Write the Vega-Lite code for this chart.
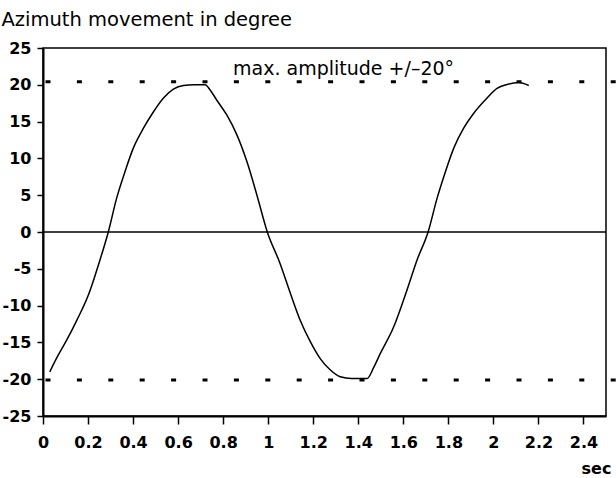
{
  "$schema": "https://vega.github.io/schema/vega-lite/v6.json",
  "width": 563,
  "height": 368,
  "autosize": {"type": "none"},
  "padding": {"left": 43, "top": 48, "right": 10, "bottom": 62},
  "background": "white",
  "config": {
    "view": {"stroke": "black", "strokeWidth": 1.5},
    "font": "DejaVu Sans",
    "axis": {"labelOverlap": false, "labelFlush": false, "grid": false, "labelBound": false}
  },
  "datasets": {
    "curve": [
      {"t": 0.03, "v": -19.0},
      {"t": 0.068, "v": -16.7},
      {"t": 0.105, "v": -14.7},
      {"t": 0.15, "v": -12.0},
      {"t": 0.201, "v": -8.6},
      {"t": 0.253, "v": -3.8},
      {"t": 0.29, "v": 0.0},
      {"t": 0.327, "v": 4.6},
      {"t": 0.364, "v": 8.2},
      {"t": 0.401, "v": 11.4},
      {"t": 0.446, "v": 14.1},
      {"t": 0.49, "v": 16.3},
      {"t": 0.535, "v": 18.2},
      {"t": 0.579, "v": 19.4},
      {"t": 0.624, "v": 19.9},
      {"t": 0.67, "v": 20.0},
      {"t": 0.72, "v": 20.0},
      {"t": 0.742, "v": 19.3},
      {"t": 0.772, "v": 17.9},
      {"t": 0.816, "v": 15.9},
      {"t": 0.861, "v": 13.2},
      {"t": 0.905, "v": 9.6},
      {"t": 0.95, "v": 5.0},
      {"t": 0.996, "v": 0.0},
      {"t": 1.053, "v": -4.3},
      {"t": 1.098, "v": -8.3},
      {"t": 1.142, "v": -12.0},
      {"t": 1.187, "v": -14.9},
      {"t": 1.231, "v": -17.2},
      {"t": 1.276, "v": -18.75},
      {"t": 1.32, "v": -19.66},
      {"t": 1.37, "v": -19.9},
      {"t": 1.439, "v": -19.9},
      {"t": 1.47, "v": -18.3},
      {"t": 1.498, "v": -16.5},
      {"t": 1.557, "v": -12.9},
      {"t": 1.616, "v": -7.9},
      {"t": 1.661, "v": -3.8},
      {"t": 1.71, "v": 0.0},
      {"t": 1.75, "v": 4.6},
      {"t": 1.787, "v": 8.2},
      {"t": 1.824, "v": 11.4},
      {"t": 1.868, "v": 14.1},
      {"t": 1.912, "v": 16.1},
      {"t": 1.972, "v": 18.2},
      {"t": 2.016, "v": 19.5},
      {"t": 2.061, "v": 20.05},
      {"t": 2.112, "v": 20.3},
      {"t": 2.157, "v": 19.9}
    ],
    "limits": [
      {"t": 0, "t2": 2.556, "v": 20.4},
      {"t": 0, "t2": 2.556, "v": -20.1}
    ],
    "zero": [
      {"t": 0, "t2": 2.5, "v": 0}
    ],
    "note": [
      {"t": 0.844, "v": 21.3, "label": "max. amplitude +/–20°"}
    ]
  },
  "layer": [
    {
      "data": {"name": "curve"},
      "mark": {"type": "line", "color": "black", "strokeWidth": 1.5, "interpolate": "monotone"},
      "encoding": {
        "x": {
          "field": "t",
          "type": "quantitative",
          "scale": {"domain": [0, 2.5], "nice": false, "zero": false},
          "axis": {
            "values": [0, 0.2, 0.4, 0.6, 0.8, 1, 1.2, 1.4, 1.6, 1.8, 2, 2.2, 2.4],
            "format": "~g",
            "labelOverlap": false,
            "domainColor": "black",
            "domainWidth": 2,
            "tickColor": "black",
            "tickWidth": 1.5,
            "tickSize": 8,
            "labelPadding": 10,
            "labelFont": "DejaVu Sans",
            "labelFontSize": 16,
            "labelFontWeight": "bold",
            "labelColor": "black",
            "title": "sec",
            "titleFont": "DejaVu Sans",
            "titleFontSize": 16,
            "titleFontWeight": "bold",
            "titleColor": "black",
            "titleAlign": "left",
            "titleBaseline": "alphabetic",
            "titleAnchor": null,
            "titleX": 538,
            "titleY": 57
          }
        },
        "y": {
          "field": "v",
          "type": "quantitative",
          "scale": {"domain": [-25, 25], "nice": false, "zero": false},
          "axis": {
            "tickCount": 10,
            "labelExpr": "datum.value < 0 ? '-' + format(-datum.value, 'd') : format(datum.value, 'd')",
            "labelOverlap": false,
            "labelSeparation": 0,
            "domainColor": "black",
            "domainWidth": 2,
            "tickColor": "black",
            "tickWidth": 1.5,
            "tickSize": 6,
            "labelPadding": 6,
            "labelFont": "DejaVu Sans",
            "labelFontSize": 16,
            "labelFontWeight": "bold",
            "labelColor": "black",
            "title": "Azimuth movement in degree",
            "titleFont": "DejaVu Sans",
            "titleFontSize": 19.5,
            "titleFontWeight": "normal",
            "titleColor": "black",
            "titleAngle": 0,
            "titleAlign": "left",
            "titleBaseline": "alphabetic",
            "titleAnchor": null,
            "titleX": -42,
            "titleY": -23
          }
        }
      }
    },
    {
      "data": {"name": "zero"},
      "mark": {"type": "rule", "color": "black", "strokeWidth": 1.5},
      "encoding": {
        "x": {"field": "t", "type": "quantitative"},
        "x2": {"field": "t2"},
        "y": {"field": "v", "type": "quantitative"}
      }
    },
    {
      "data": {"name": "limits"},
      "mark": {"type": "rule", "color": "black", "strokeWidth": 3, "strokeDash": [5, 26.4], "strokeDashOffset": 28.9, "clip": false},
      "encoding": {
        "x": {"field": "t", "type": "quantitative"},
        "x2": {"field": "t2"},
        "y": {"field": "v", "type": "quantitative"}
      }
    },
    {
      "data": {"name": "note"},
      "mark": {"type": "text", "align": "left", "baseline": "alphabetic", "font": "DejaVu Sans", "fontSize": 19, "color": "black"},
      "encoding": {
        "x": {"field": "t", "type": "quantitative"},
        "y": {"field": "v", "type": "quantitative"},
        "text": {"field": "label"}
      }
    }
  ]
}
